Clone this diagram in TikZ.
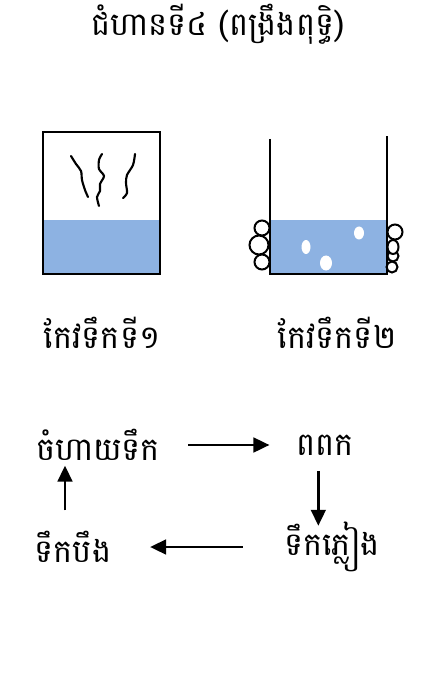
\documentclass[tikz,border=0pt]{standalone}
\usepackage{fontspec}
\newfontfamily\khmer[Script=Khmer]{Battambang}
\usetikzlibrary{arrows.meta}
\definecolor{water}{RGB}{141,178,226}
\begin{document}
\begin{tikzpicture}[x=0.75pt, y=-0.75pt,
	txt/.style = {font=\khmer\fontsize{24}{28}\selectfont, inner sep=0pt},
	flow/.style = {-{Triangle[length=12pt, width=11pt]}, line width=2pt},
	wall/.style = {line width=1.9pt},
	steam/.style = {line width=1.6pt, line cap=round},
	bub/.style = {draw, line width=1.5pt, fill=white}] 
	\useasboundingbox (0,0) rectangle (429,698);
	% title
	\node[txt] (title) at (218,24) {ជំហានទី៤ (ពង្រឹងពុទ្ធិ)};
	% glass 1 : covered, steam rising
	\fill[water] (44,220) rectangle (160,274);
	\draw[wall] (43,132) rectangle (160,274);
	\draw[steam] plot[smooth] coordinates {(71,156) (76,164) (81,171) (82,180) (85,190) (88,197)};
	\draw[steam] plot[smooth] coordinates {(102,154) (99,160) (99,169) (104,176) (100,184) (100,191) (97,197) (99,206)};
	\draw[steam] plot[smooth] coordinates {(135,154) (133,165) (127,175) (126,183) (127,193) (123,198)};
	% glass 2 : open, bubbles
	\fill[water] (270,220) rectangle (387,274);
	\fill[white] (306,247) ellipse (4.5 and 7);
	\fill[white] (326,263) ellipse (6 and 7.5);
	\fill[white] (359,233) ellipse (5 and 6.5);
	\draw[bub] (262,228) circle (7.5);
	\draw[bub] (262,262) circle (7.5);
	\draw[bub] (259,245) circle (9.5);
	\draw[bub] (393,256) circle (5.5);
	\draw[bub] (392,267) circle (5.5);
	\draw[bub] (393,247) ellipse (5.5 and 7);
	\draw[bub] (395,232) circle (7.5);
	\draw[wall] (270,139) -- (270,274) -- (387,274) -- (387,136);
	\node[txt] (glass1) at (102,333) {កែវទឹកទី១};
	\node[txt] (glass2) at (337,333) {កែវទឹកទី២};
	% water cycle
	\node[txt] (vapour) at (98,445) {ចំហាយទឹក};
	\node[txt] (cloud) at (325,445) {ពពក};
	\node[txt] (rain) at (332,547) {ទឹកភ្លៀង};
	\node[txt] (lake) at (73,547) {ទឹកបឹង};
	\draw[flow, shorten <=21pt, shorten >=20pt] (vapour.east) -- (cloud.west);
	\draw[flow, shorten <=11.5pt, shorten >=-3pt] ([xshift=-5pt]cloud.south) -- ([xshift=-5pt]cloud.south |- rain.north);
	\draw[flow, shorten <=31pt, shorten >=29pt] (rain.west) -- (lake.east);
	\draw[flow, shorten <=15.5pt, shorten >=3.5pt] ([xshift=-6pt]lake.north) -- ([xshift=-6pt]lake.north |- vapour.south);
\end{tikzpicture}
\end{document}
